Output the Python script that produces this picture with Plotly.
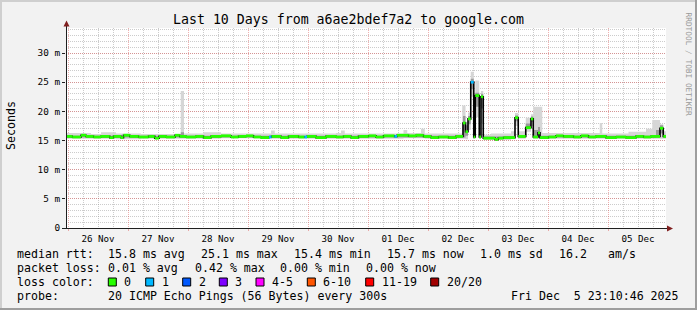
import pandas as pd
import plotly.graph_objects as go

# ---------------- data ----------------
START = pd.Timestamp("2025-11-25 23:10:46")
SPAN_H = 240

# median rtt step segments (start hour offset, ms, loss bucket index)
med_start_h = [0, 2.5, 6, 8, 11, 14, 17.5, 19, 22, 23,
               25.5, 29, 33, 35.5, 37.2, 40, 43.6, 45.5,
               48, 52, 55, 58, 62, 66, 69,
               72, 75, 78, 81.2, 82.2, 86, 89, 93, 95.4, 96.4,
               100, 104, 108, 111, 114, 117,
               121, 124, 127, 131.4, 132.4, 137, 140, 143,
               146, 149, 153, 156, 158.8, 159.8, 160.8, 161.9, 163.1, 163.7, 165.3, 166, 166.9,
               171.6, 172.9, 175, 179.6, 180.9, 183.9, 186, 186.9, 188.8, 189.6,
               193, 196, 199, 203, 206, 209, 212,
               216, 220, 224, 228, 231, 234, 237.6, 238.9]
med_ms = [15.7, 15.6, 15.9, 15.7, 15.6, 15.7, 15.5, 15.7, 15.5, 15.9,
          15.7, 15.6, 15.7, 15.4, 15.7, 15.6, 15.9, 15.7,
          15.6, 15.7, 15.5, 15.7, 15.8, 15.6, 15.7,
          15.8, 15.6, 15.5, 15.6, 15.7, 15.5, 15.7, 15.6, 15.6, 15.7,
          15.5, 15.7, 15.6, 15.7, 15.5, 15.7,
          15.8, 15.6, 15.8, 15.7, 15.9, 15.8, 15.9, 15.7,
          15.5, 15.6, 15.5, 15.7, 18.0, 16.5, 18.7, 25.0, 15.6, 22.7, 15.6, 22.5, 15.4,
          15.2, 15.4, 15.5, 18.9, 15.7, 17.2, 18.7, 15.6, 16.3, 15.5,
          15.6, 15.8, 15.7, 15.6, 15.8, 15.6, 15.7,
          15.5, 15.6, 15.5, 15.7, 15.6, 15.7, 17.1, 15.7]
med_loss = [0, 0, 0, 0, 0, 0, 0, 0, 0, 0,
            0, 0, 0, 0, 0, 0, 0, 0,
            0, 0, 0, 0, 0, 0, 0,
            0, 0, 0, 1, 0, 0, 0, 0, 1, 0,
            0, 0, 0, 0, 0, 0,
            0, 0, 0, 1, 0, 0, 0, 0,
            0, 0, 0, 0, 0, 0, 0, 1, 0, 0, 0, 0, 0,
            0, 0, 0, 0, 0, 0, 0, 0, 0, 0,
            0, 0, 0, 0, 0, 0, 0,
            0, 0, 0, 0, 0, 0, 0, 0]

# outer (light) smoke band
smoke_start_h = [0, 10, 14, 20, 30, 45.9, 47.2, 55, 62, 82, 83.5, 108, 110, 111.5,
                 135, 136.5, 142, 143.5, 158.5, 159.8, 160.8, 161.9, 163.1, 163.7,
                 165.3, 166, 166.9, 170, 178, 179.6, 180.9, 183.9, 186, 186.9, 190.5,
                 213.5, 214.5, 225, 232, 234.5, 237.6, 238.9]
smoke_lo = [15.3, 15.3, 15.3, 15.2, 15.3, 15.3, 15.3, 15.3, 15.4, 15.3, 15.3, 15.3, 15.3, 15.3,
            15.4, 15.4, 15.4, 15.3, 15.3, 15.2, 16.8, 22.5, 15.3, 19.0,
            15.3, 18.0, 15.1, 15.1, 15.2, 17.5, 15.3, 16.5, 17.5, 15.3, 15.3,
            15.3, 15.3, 15.3, 15.3, 15.3, 15.3, 15.3]
smoke_hi = [16.3, 16.1, 16.4, 16.2, 16.1, 23.5, 16.2, 16.4, 16.2, 16.7, 16.2, 16.3, 16.7, 16.2,
            16.8, 16.3, 17.0, 16.2, 21.0, 18.2, 19.8, 26.8, 16.5, 25.3,
            16.5, 23.5, 16.0, 16.2, 16.6, 19.7, 16.6, 18.9, 19.5, 20.8, 16.3,
            18.0, 16.2, 16.5, 17.0, 18.5, 17.8, 16.6]

# inner (dark) smoke band
dark_start_h = [0, 45.9, 47.2, 158.8, 159.8, 160.8, 161.9, 163.1, 163.7, 165.3, 166, 166.9,
                179.6, 180.9, 183.9, 186, 186.9, 188.8, 189.6, 236, 237.6, 238.9]
dark_lo = [15.5, 15.5, 15.5, 15.5, 15.8, 17.8, 23.8, 15.5, 20.8, 15.5, 20.5, 15.5,
           18.3, 15.5, 17.0, 18.2, 15.5, 15.5, 15.5, 15.6, 16.2, 15.5]
dark_hi = [15.8, 16.4, 15.8, 19.2, 17.6, 19.2, 25.6, 15.8, 23.2, 15.8, 23.0, 15.7,
           19.3, 15.8, 17.9, 19.1, 16.8, 17.3, 15.8, 16.8, 17.6, 16.0]

y_tickvals = [0, 5, 10, 15, 20, 25, 30]
y_ticktext = ["0", "5 m", "10 m", "15 m", "20 m", "25 m", "30 m"]

loss_labels = ["0", "1", "2", "3", "4-5", "6-10", "11-19", "20/20"]
loss_colors = ["#26ff00", "#00b8ff", "#0059ff", "#7e00ff", "#ff00ff", "#ff5500", "#ff0000", "#a10000"]

title_text = "Last 10 Days from a6ae2bdef7a2 to google.com"
rtt_texts = ["median rtt:", "15.8 ms avg", "25.1 ms max", "15.4 ms min", "15.7 ms now",
             "1.0 ms sd", "16.2", "am/s"]
loss_texts = ["packet loss:", "0.01 % avg", "0.42 % max", "0.00 % min", "0.00 % now"]
probe_texts = ["probe:", "20 ICMP Echo Pings (56 Bytes) every 300s"]
date_text = "Fri Dec\u00a0\u00a05 23:10:46 2025"

# ---------------- layout constants ----------------
W_FIG, H_FIG = 697, 310
L, T, PW, PH = 66, 28, 600, 200
FONT = "DejaVu Sans Mono"


def px(x):
    return (x - L) / PW


def py(y):
    return (T + PH - y) / PH


def to_time(hours):
    return [START + pd.Timedelta(hours=h) for h in hours]


def step_xy(starts, vals):
    return to_time(list(starts) + [SPAN_H]), list(vals) + [vals[-1]]


fig = go.Figure()

# smoke bands
for st, lo, hi, col in [(smoke_start_h, smoke_lo, smoke_hi, "#d6d6d6"),
                        (dark_start_h, dark_lo, dark_hi, "#9a9a9a")]:
    x, ylo = step_xy(st, lo)
    _, yhi = step_xy(st, hi)
    fig.add_trace(go.Scatter(x=x, y=ylo, mode="lines", line=dict(width=0, shape="hv"),
                             hoverinfo="skip", showlegend=False))
    fig.add_trace(go.Scatter(x=x, y=yhi, mode="lines", line=dict(width=0, shape="hv"),
                             fill="tonexty", fillcolor=col, hoverinfo="skip", showlegend=False))

# black median step line (verticals)
x, y = step_xy(med_start_h, med_ms)
fig.add_trace(go.Scatter(x=x, y=y, mode="lines", line=dict(color="#000000", width=1.6, shape="hv"),
                         hoverinfo="skip", showlegend=False))

# loss-colored horizontal segments
ends = med_start_h[1:] + [SPAN_H]
for b in sorted(set(med_loss)):
    xs, ys = [], []
    for s, e, v, lb in zip(med_start_h, ends, med_ms, med_loss):
        if lb == b:
            xs += to_time([s, e]) + [None]
            ys += [v, v, None]
    fig.add_trace(go.Scatter(x=xs, y=ys, mode="lines", line=dict(color=loss_colors[b], width=2.8),
                             hoverinfo="skip", showlegend=False))

GRID = "rgba(143,143,143,0.45)"
MGRID = "rgba(222,79,79,0.45)"
AXIS = "#1f1f1f"
ARROW = "#801f1f"

fig.update_layout(
    width=W_FIG, height=H_FIG,
    margin=dict(l=L, r=W_FIG - L - PW, t=T, b=H_FIG - T - PH, pad=0),
    paper_bgcolor="#f2f2f2", plot_bgcolor="#ffffff",
    font=dict(family=FONT, color="#000000"),
    xaxis=dict(type="date", range=[START, START + pd.Timedelta(hours=SPAN_H)],
               tick0="2025-11-26", dtick=86400000, tickformat="%d %b", ticklabelmode="period",
               showgrid=True, gridcolor=MGRID, griddash="1px,1px", gridwidth=1,
               ticks="outside", ticklen=2, tickcolor=MGRID, tickfont=dict(size=9.2),
               minor=dict(tick0="2025-11-26", dtick=21600000, showgrid=True, gridcolor=GRID,
                          griddash="1px,1px", gridwidth=1),
               showline=False, zeroline=False, fixedrange=True),
    yaxis=dict(range=[0, PH / (175 / 30)], tickvals=y_tickvals, ticktext=y_ticktext,
               showgrid=True, gridcolor=MGRID, griddash="1px,1px", gridwidth=1,
               ticks="outside", ticklen=3, tickcolor=AXIS, tickfont=dict(size=9.4),
               minor=dict(dtick=1, showgrid=True, gridcolor=GRID, griddash="1px,1px", gridwidth=1),
               showline=False, zeroline=False, fixedrange=True),
)

shapes = []
# frame (3D bevel)
shapes += [
    dict(type="rect", xref="paper", yref="paper", x0=px(0), x1=px(W_FIG), y0=py(0), y1=py(2),
         fillcolor="#cfcfcf", line=dict(width=0), layer="above"),
    dict(type="rect", xref="paper", yref="paper", x0=px(0), x1=px(2), y0=py(0), y1=py(H_FIG),
         fillcolor="#cfcfcf", line=dict(width=0), layer="above"),
    dict(type="rect", xref="paper", yref="paper", x0=px(0), x1=px(W_FIG), y0=py(H_FIG - 2), y1=py(H_FIG),
         fillcolor="#9e9e9e", line=dict(width=0), layer="above"),
    dict(type="rect", xref="paper", yref="paper", x0=px(W_FIG - 2), x1=px(W_FIG), y0=py(0), y1=py(H_FIG),
         fillcolor="#9e9e9e", line=dict(width=0), layer="above"),
]
# axes lines
shapes += [
    dict(type="line", xref="paper", yref="paper", x0=px(66.5), x1=px(66.5), y0=py(228), y1=py(24),
         line=dict(color=AXIS, width=1), layer="above"),
    dict(type="line", xref="paper", yref="paper", x0=px(63), x1=px(670), y0=py(228.5), y1=py(228.5),
         line=dict(color=AXIS, width=1), layer="above"),
]


def path(pts):
    return "M " + " L ".join(f"{px(a)},{py(b)}" for a, b in pts) + " Z"


shapes += [
    dict(type="path", xref="paper", yref="paper", path=path([(66.5, 20.5), (63.5, 26.5), (69.5, 26.5)]),
         fillcolor=ARROW, line=dict(width=0), layer="above"),
    dict(type="path", xref="paper", yref="paper", path=path([(673, 228.5), (667, 225.5), (667, 231.5)]),
         fillcolor=ARROW, line=dict(width=0), layer="above"),
]

# loss color boxes
box_x = [108.3, 145.7, 182.7, 219.3, 256, 307.3, 365.7, 430.7]
for bx, col in zip(box_x, loss_colors):
    shapes.append(dict(type="rect", xref="paper", yref="paper", x0=px(bx), x1=px(bx + 8),
                       y0=py(278), y1=py(286), fillcolor=col, line=dict(color="#000000", width=1),
                       layer="above"))
fig.update_layout(shapes=shapes)

ann = []


def text(x, y, s, size=11.6, xanchor="left", color="#000000", angle=0):
    ann.append(dict(x=px(x), y=py(y), xref="paper", yref="paper", text=s, showarrow=False,
                    xanchor=xanchor, yanchor="middle", textangle=angle, borderpad=0,
                    font=dict(family=FONT, size=size, color=color)))


text(348, 19, title_text, size=13.25, xanchor="center")
text(11, 126, "Seconds", size=11.6, xanchor="center", angle=-90)
text(688.5, 64, "RRDTOOL / TOBI OETIKER", size=7.8, xanchor="center", color="#999999", angle=90)

row_y = [254, 268, 282, 296]
for s, x in zip(rtt_texts, [16, 107.3, 200, 293.3, 386, 479.3, 558.3, 607.3]):
    text(x, row_y[0], s)
for s, x in zip(loss_texts, [16, 107.3, 193.7, 279.3, 365]):
    text(x, row_y[1], s)
text(16, row_y[2], "loss color:")
for bx, lab in zip(box_x, loss_labels):
    text(bx + 15, row_y[2], lab)
for s, x in zip(probe_texts, [16, 107.3]):
    text(x, row_y[3], s)
text(680, row_y[3], date_text, xanchor="right")

fig.update_layout(annotations=ann)
fig.write_html("out.html")
